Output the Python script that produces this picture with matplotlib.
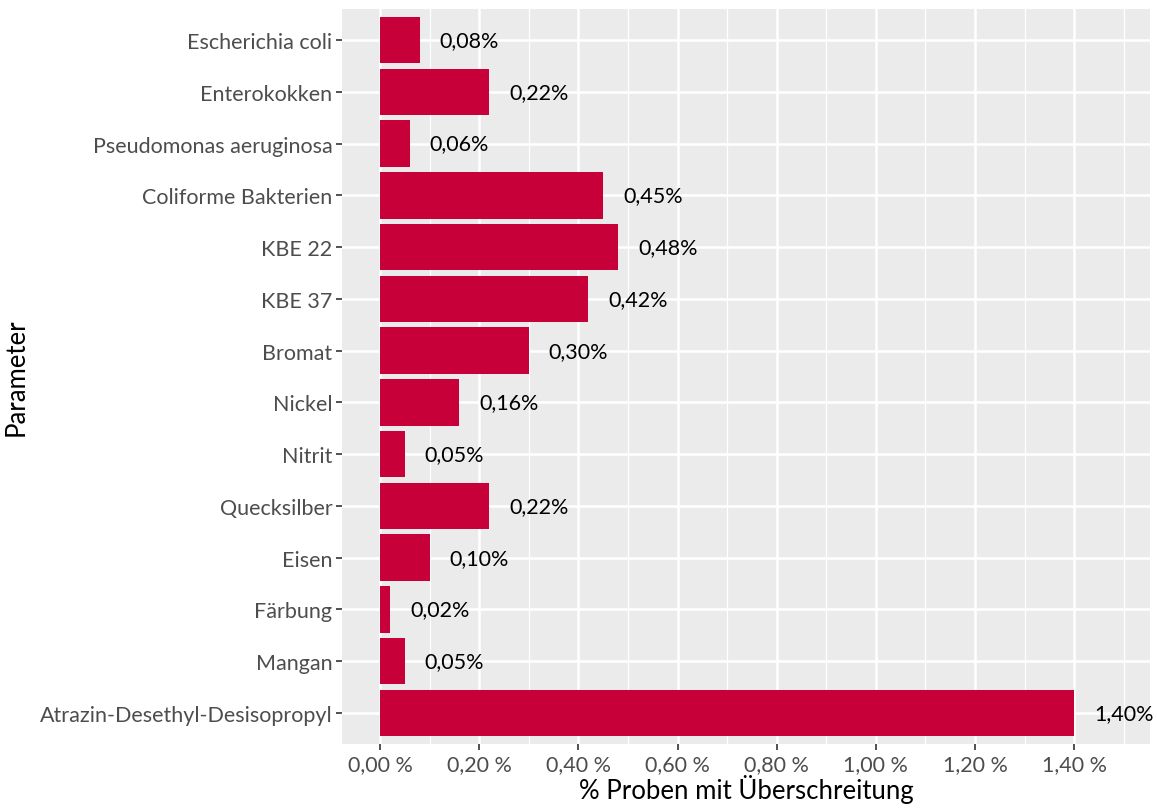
import matplotlib.pyplot as plt
import numpy as np

parameter = ['Escherichia coli', 'Enterokokken', 'Pseudomonas aeruginosa', 'Coliforme Bakterien',
             'KBE 22', 'KBE 37', 'Bromat', 'Nickel', 'Nitrit', 'Quecksilber', 'Eisen',
             'Färbung', 'Mangan', 'Atrazin-Desethyl-Desisopropyl']
anteil = [0.08, 0.22, 0.06, 0.45, 0.48, 0.42, 0.30, 0.16, 0.05, 0.22, 0.10, 0.02, 0.05, 1.40]
x_ticks = [0.0, 0.2, 0.4, 0.6, 0.8, 1.0, 1.2, 1.4]

plt.rcParams['font.family'] = ['Lato', 'DejaVu Sans']

fig = plt.figure(figsize=(11.57, 8.12), dpi=100)
ax = fig.add_axes([0.2956, 0.0825, 0.6983, 0.9052])
ax.set_facecolor('#EBEBEB')

y = np.arange(len(parameter))[::-1]
ax.barh(y, anteil, height=0.9, color='#C8003A', zorder=3)

for yi, v in zip(y, anteil):
    ax.text(v + 0.04, yi, f'{v:.2f}%'.replace('.', ','), va='center', ha='left',
            fontsize=15.5, color='black', zorder=4)

ax.set_yticks(y)
ax.set_yticklabels(parameter)
ax.set_xticks(x_ticks)
ax.set_xticklabels([f'{t:.2f} %'.replace('.', ',') for t in x_ticks])
ax.set_xticks([0.1, 0.3, 0.5, 0.7, 0.9, 1.1, 1.3, 1.5], minor=True)

ax.set_xlim(-0.077, 1.553)
ax.set_ylim(-0.6, len(parameter) - 0.4)

ax.grid(True, which='major', color='white', lw=1.8, zorder=0)
ax.grid(True, which='minor', axis='x', color='white', lw=0.9, zorder=0)
ax.set_axisbelow(True)
for s in ax.spines.values():
    s.set_visible(False)

ax.tick_params(axis='both', which='major', length=4, width=1.2, color='#333333',
               labelsize=15.5, labelcolor='#4D4D4D', pad=3)
ax.tick_params(axis='x', which='minor', length=0)

ax.set_xlabel('% Proben mit Überschreitung', fontsize=18.5, color='black', labelpad=0)
ax.set_ylabel('Parameter', fontsize=18.5, color='black', labelpad=8)

fig.savefig('out.png', dpi=100)
